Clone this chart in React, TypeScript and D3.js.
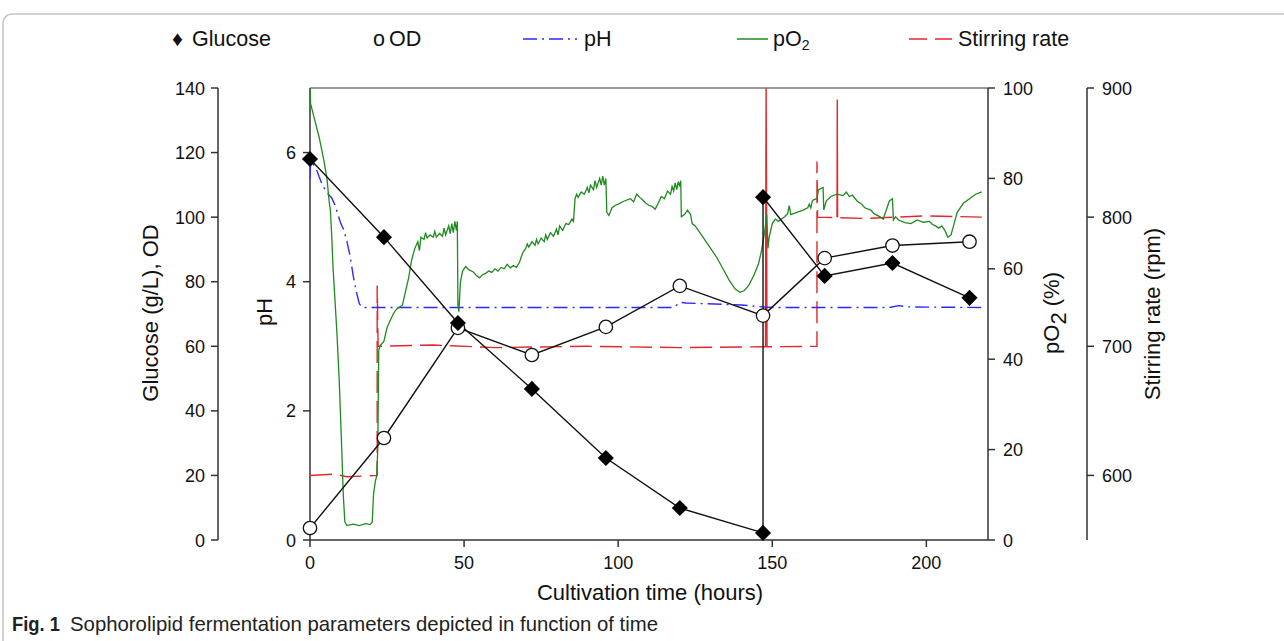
import React from 'react';
import * as d3 from 'd3';

const W = 1284;
const H = 641;

// axis ticks
const timeTicks = [0, 50, 100, 150, 200];
const glucoseTicks = [0, 20, 40, 60, 80, 100, 120, 140];
const phTicks = [0, 2, 4, 6];
const po2Ticks = [0, 20, 40, 60, 80, 100];
const stirTicks = [600, 700, 800, 900];

// sampled points (hours)
const glucoseTime = [0, 24, 48, 72, 96, 120, 147, 147, 167, 189, 214];
const glucoseValues = [118, 93.8, 67.2, 46.8, 25.4, 9.9, 2.2, 106.2, 81.8, 85.8, 75];
const odTime = [0, 24, 48, 72, 96, 120, 147, 167, 189, 214];
const odValues = [3.7, 31.6, 65.7, 57.3, 66, 78.7, 69.5, 87.3, 91.2, 92.4];

// online probes: [hours, value]
const phSeries: [number, number][] = [
  [0, 5.6], [0.2, 5.85], [1, 5.82], [2, 5.75], [3, 5.62], [4, 5.5], [5, 5.42], [6, 5.35],
  [7, 5.3], [8, 5.2], [9, 5.05], [10, 4.9], [11, 4.8], [12, 4.62], [13, 4.4], [14, 4.1],
  [15, 3.85], [16, 3.66], [17, 3.6], [50, 3.6], [118, 3.6], [120, 3.68], [122, 3.67],
  [140, 3.64], [147, 3.61], [150, 3.6], [188, 3.6], [191, 3.63], [194, 3.61], [218, 3.6],
];

const po2Series: [number, number][] = [
  [0, 100], [0.2, 96.5], [1.5, 93], [3, 89], [4.5, 84], [5.5, 80], [6.2, 75], [6.6, 73], [7, 68],
  [7.5, 60], [8.2, 52], [8.8, 45], [9.5, 35], [10.2, 22], [10.8, 10], [11.3, 4], [12, 3.2],
  [14, 3.5], [16, 3.2], [18, 3.6], [19.5, 3.4], [20.2, 4], [20.6, 10], [21.2, 13], [21.6, 14],
  [22, 20], [22.3, 42], [22.8, 43], [24, 44], [25, 47], [26, 48.5], [27, 50], [28, 51], [29, 51.5],
  [30, 52], [31, 55], [32, 58], [33, 62], [34, 64.5], [35, 66], [35.5, 64], [36, 67], [37, 66.5],
  [37.5, 68], [38, 66.8], [39, 67.5], [40, 67], [40.5, 68.3], [41, 67], [42, 67.8], [43, 67.2],
  [43.5, 69], [44, 67.5], [45, 69.5], [45.5, 67.8], [46, 70], [46.5, 68], [47, 70.5], [47.5, 68.5],
  [47.8, 70.5], [48, 52], [48.3, 50.5], [48.8, 57], [49.5, 59.5], [50.5, 60.5], [51.5, 59.8],
  [53, 59.3], [54, 58.5], [55, 58], [56, 58.7], [57, 59], [58, 59.5], [59, 59.2], [60, 60],
  [61, 59.5], [62, 60.3], [63, 60], [64, 61], [65, 60.2], [66, 60.7], [67, 60.3], [68, 61.5],
  [69, 63.5], [70, 64.5], [70.5, 65.5], [71, 64.8], [72, 66], [73, 65.2], [73.5, 66.5], [74, 65.5],
  [75, 66.8], [76, 66], [76.5, 67.5], [77, 66.5], [78, 68], [79, 67.2], [80, 68.8], [80.5, 67.5],
  [81, 69.5], [82, 68.5], [83, 70], [84, 69.8], [85, 71], [85.5, 70.5], [86, 75.5], [86.5, 76.5],
  [87, 75.8], [88, 77], [89, 76.5], [90, 78], [90.5, 76.8], [91, 78.5], [92, 77.5], [92.5, 79.5],
  [93, 78], [94, 80], [94.5, 78.5], [95, 80.5], [95.5, 78.5], [96, 80], [96.3, 72.5], [97, 71.8],
  [98, 73.5], [99, 74], [100, 74.3], [102, 75], [104, 75.5], [105, 74.8], [106, 76.5], [107, 75.8],
  [108, 75.2], [109, 74.5], [110, 74], [111, 73.8], [112, 73.2], [113, 74.5], [114, 76], [115, 75.5],
  [116, 77.2], [117, 76.5], [117.5, 78.2], [118, 77.2], [118.5, 79], [119, 77.5], [119.5, 79.3],
  [120, 78.2], [120.3, 79.5], [120.5, 71.5], [121.5, 72], [122.5, 73], [123.5, 72], [124, 70],
  [125, 69.5], [126, 68.5], [128, 66.5], [130, 64.5], [132, 62.5], [134, 60], [136, 57.5],
  [138, 55.5], [139.5, 54.8], [141, 55.2], [142.5, 56.5], [144, 58.5], [145.5, 61], [146.5, 64],
  [147.5, 68], [148.2, 72], [148.6, 64.5], [149, 67], [150, 70], [151, 71], [152, 70.5], [153, 71],
  [154, 71.5], [155, 72.2], [155.5, 74], [156, 72], [158, 72.5], [160, 73], [161.5, 73.5],
  [162, 74.3], [162.5, 73.5], [163, 75], [163.5, 75.3], [164.5, 75.5], [165, 77.5], [166.5, 78],
  [166.7, 73], [167.5, 75], [169, 76], [171, 76.5], [173, 76.2], [174, 77], [175, 76], [176, 76.3],
  [177.5, 75], [179, 74.3], [180, 73.5], [182, 73], [183, 72.2], [185, 71.5], [186, 71], [187, 73],
  [188, 75], [189, 75.5], [189.3, 70.8], [190, 71.5], [191, 70.8], [193, 70.2], [195, 70],
  [197, 70.8], [199, 70.3], [201, 70.5], [202, 69.8], [203, 69.5], [204, 69], [205, 69.5],
  [206, 68.5], [207, 67], [208, 67.5], [209, 70], [210, 72.5], [211, 73.5], [212, 74.5],
  [214, 75.5], [216, 76.5], [218, 77],
];

const stirSeries: [number, number][] = [
  [0, 600], [8, 601], [12, 599], [21.8, 600], [21.8, 747], [22.1, 700], [40, 701], [60, 699],
  [90, 700], [120, 699], [164.5, 700], [164.5, 843], [164.7, 800], [180, 799], [200, 801], [218, 800],
];
// short solid excursions of the stirrer
const stirSpikes: [number, number][][] = [
  [[147.8, 700], [148, 905], [148.3, 700]],
  [[171, 800], [171.1, 891], [171.2, 800]],
];

const FONT = '"Liberation Sans", Arial, sans-serif';

const x = d3.scaleLinear().domain([0, 220]).range([310, 988]);
const yG = d3.scaleLinear().domain([0, 140]).range([540, 88]);
const yPh = d3.scaleLinear().domain([0, 7]).range([540, 88]);
const yPo2 = d3.scaleLinear().domain([0, 100]).range([540, 88]);
const yStir = d3.scaleLinear().domain([550, 900]).range([540, 88]);

const diamond = d3.symbol().type(d3.symbolDiamond2).size(165);

export default function App() {
  const ph = d3.line<[number, number]>().x(d => x(d[0])).y(d => yPh(d[1]))(phSeries);
  const po2 = d3.line<[number, number]>().x(d => x(d[0])).y(d => yPo2(d[1]))(po2Series);
  const stirLine = d3.line<[number, number]>().x(d => x(d[0])).y(d => yStir(d[1]));
  const glu = d3.line<number>().x((_, i) => x(glucoseTime[i])).y(d => yG(d))(glucoseValues);
  const od = d3.line<number>().x((_, i) => x(odTime[i])).y(d => yG(d))(odValues);

  const [x0, x1] = x.range();
  const [yb, yt] = yG.range();

  return (
    <svg width={W} height={H} style={{ position: 'absolute', left: 0, top: 0, background: '#fff' }}
      fontFamily={FONT}>
      <defs>
        <clipPath id="plot"><rect x={x0} y={yt} width={x1 - x0} height={yb - yt} /></clipPath>
      </defs>
      <rect x={3} y={14} width={1300} height={700} rx={9} fill="none" stroke="#c4c4c4" strokeWidth={1.5} />

      {/* legend */}
      <g fontSize={21.5} fill="#111">
        <text x={172} y={46}>♦</text>
        <text x={192} y={46}>Glucose</text>
        <text x={373} y={46}>ο</text>
        <text x={389} y={46}>OD</text>
        <line x1={523} x2={577} y1={39} y2={39} stroke="#2a2aff" strokeWidth={1.5} strokeDasharray="14,5,2,5" />
        <text x={584} y={46}>pH</text>
        <line x1={737} x2={768} y1={39} y2={39} stroke="#1f8a1f" strokeWidth={1.5} />
        <text x={773} y={46}>pO<tspan fontSize={14} dy={4}>2</tspan></text>
        <line x1={909} x2={952} y1={39} y2={39} stroke="#e0282e" strokeWidth={1.5} strokeDasharray="18,8" />
        <text x={958} y={46}>Stirring rate</text>
      </g>

      {/* frame */}
      <line x1={x0} x2={x1} y1={yt} y2={yt} stroke="#777" strokeWidth={1.5} />
      <line x1={x0} x2={x1} y1={yb} y2={yb} stroke="#333" strokeWidth={1.5} />
      <line x1={x0} x2={x0} y1={yt} y2={yb} stroke="#333" strokeWidth={1.5} />
      <line x1={x1} x2={x1} y1={yt} y2={yb} stroke="#333" strokeWidth={1.5} />

      {/* x axis */}
      <g fontSize={18} textAnchor="middle" fill="#111">
        {timeTicks.map(t => (
          <g key={t}>
            <line x1={x(t)} x2={x(t)} y1={yb} y2={yb + 7} stroke="#333" strokeWidth={1.5} />
            <text x={x(t)} y={yb + 29}>{t}</text>
          </g>
        ))}
        <text x={650} y={600} fontSize={22}>Cultivation time (hours)</text>
      </g>

      {/* glucose / OD axis */}
      <line x1={218} x2={218} y1={yt} y2={yb} stroke="#333" strokeWidth={1.5} />
      <g fontSize={18} textAnchor="end" fill="#111">
        {glucoseTicks.map(v => (
          <g key={v}>
            <line x1={211} x2={218} y1={yG(v)} y2={yG(v)} stroke="#333" strokeWidth={1.5} />
            <text x={205} y={yG(v) + 6.5}>{v}</text>
          </g>
        ))}
      </g>
      <text transform="translate(158,313) rotate(-90)" textAnchor="middle" fontSize={22} fill="#111">Glucose (g/L), OD</text>

      {/* pH axis */}
      <g fontSize={18} textAnchor="end" fill="#111">
        {phTicks.map(v => (
          <g key={v}>
            <line x1={x0 - 7} x2={x0} y1={yPh(v)} y2={yPh(v)} stroke="#333" strokeWidth={1.5} />
            <text x={296} y={yPh(v) + 6.5}>{v}</text>
          </g>
        ))}
      </g>
      <text transform="translate(272,312) rotate(-90)" textAnchor="middle" fontSize={22} fill="#111">pH</text>

      {/* pO2 axis */}
      <g fontSize={18} fill="#111">
        {po2Ticks.map(v => (
          <g key={v}>
            <line x1={x1} x2={x1 + 7} y1={yPo2(v)} y2={yPo2(v)} stroke="#333" strokeWidth={1.5} />
            <text x={1003} y={yPo2(v) + 6.5}>{v}</text>
          </g>
        ))}
      </g>
      <text transform="translate(1059,313) rotate(-90)" textAnchor="middle" fontSize={22} fill="#111">
        pO<tspan dy={7}>2</tspan><tspan dy={-7}> (%)</tspan>
      </text>

      {/* stirring axis */}
      <line x1={1087} x2={1087} y1={yt} y2={yb} stroke="#333" strokeWidth={1.5} />
      <g fontSize={18} fill="#111">
        {stirTicks.map(v => (
          <g key={v}>
            <line x1={1087} x2={1094} y1={yStir(v)} y2={yStir(v)} stroke="#333" strokeWidth={1.5} />
            <text x={1102} y={yStir(v) + 6.5}>{v}</text>
          </g>
        ))}
      </g>
      <text transform="translate(1160,314) rotate(-90)" textAnchor="middle" fontSize={22} fill="#111">Stirring rate (rpm)</text>

      {/* series */}
      <g clipPath="url(#plot)" fill="none" strokeWidth={1.4}>
        <path d={stirLine(stirSeries) ?? ''} stroke="#e0282e" strokeDasharray="22,8" />
        {stirSpikes.map((s, i) => <path key={i} d={stirLine(s) ?? ''} stroke="#e0282e" />)}
        <path d={ph ?? ''} stroke="#2a2aff" strokeDasharray="14,5,2,5" />
        <path d={po2 ?? ''} stroke="#1f8a1f" strokeWidth={1.3} />
        <path d={od ?? ''} stroke="#111" />
        <path d={glu ?? ''} stroke="#111" />
      </g>
      <g>
        {odValues.map((v, i) => (
          <circle key={i} cx={x(odTime[i])} cy={yG(v)} r={6.7} fill="#fff" stroke="#111" strokeWidth={1.3} />
        ))}
        {glucoseValues.map((v, i) => (
          <path key={i} d={diamond() ?? ''} transform={`translate(${x(glucoseTime[i])},${yG(v)})`} fill="#000" />
        ))}
      </g>

      {/* caption */}
      <g fontSize={21} fill="#222">
        <text x={12} y={631} fontWeight="bold" textLength={48} lengthAdjust="spacingAndGlyphs">Fig. 1</text>
        <text x={70} y={631} textLength={588} lengthAdjust="spacingAndGlyphs">Sophorolipid fermentation parameters depicted in function of time</text>
      </g>
    </svg>
  );
}
